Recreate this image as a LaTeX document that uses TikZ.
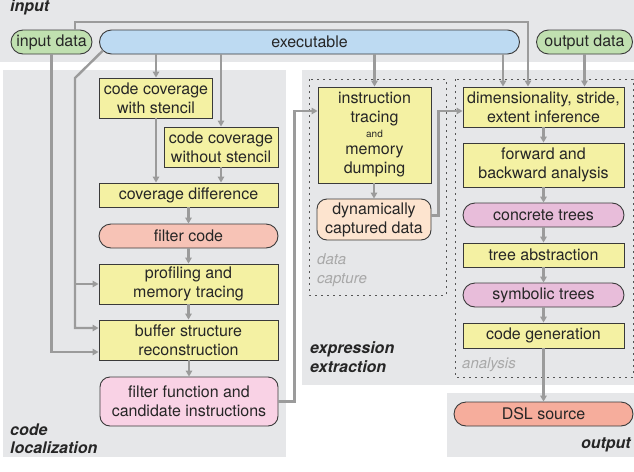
\documentclass[tikz,border=0pt]{standalone}
\usepackage{fontspec}
\setmainfont{TeX Gyre Heros}
\usetikzlibrary{arrows.meta}
\definecolor{panel}{HTML}{E6E7E9}
\definecolor{boxline}{HTML}{3A3A3A}
\definecolor{txt}{HTML}{262626}
\definecolor{flowgray}{HTML}{9B9B9B}
\definecolor{dotgray}{HTML}{555555}
\definecolor{subgray}{HTML}{A8A8A8}
\definecolor{yel}{HTML}{F4F1A3}
\definecolor{blu}{HTML}{BDDAF2}
\definecolor{grn}{HTML}{C0E0B0}
\definecolor{salm}{HTML}{F7C3B6}
\definecolor{dslred}{HTML}{F6AD9C}
\definecolor{pnk}{HTML}{F9D2E5}
\definecolor{mag}{HTML}{E8BDDA}
\definecolor{peach}{HTML}{FDE4CF}
\begin{document}
\begin{tikzpicture}[x=1pt,y=-1pt,
  box/.style={draw=boxline,line width=0.9pt,fill=yel,inner sep=0pt,align=center,text=txt,font=\fontsize{16}{19}\selectfont},
  pill/.style={box,rounded corners=12pt},
  rbox/.style={box,rounded corners=10pt},
  flow/.style={draw=flowgray,line width=2.4pt,-{Triangle[length=6pt,width=6.5pt]}},
  grp/.style={inner sep=0pt,text=txt,font=\fontsize{16}{19}\selectfont\bfseries\itshape},
  sub/.style={inner sep=0pt,text=subgray,font=\fontsize{15}{18}\selectfont\itshape},
  frame/.style={draw=dotgray,line width=1pt,dash pattern=on 2pt off 4pt}]

\useasboundingbox (0,0) rectangle (634,471);

%panels
\fill[panel] (0,0) rectangle (634,62);
\fill[panel] (3,70) rectangle (286,457);
\fill[panel] (302,70) rectangle (634,385);
\fill[panel] (447,393) rectangle (634,457);
\draw[frame] (309,79) rectangle (446,295);
\draw[frame] (455,79) rectangle (633,377);

\node[grp,anchor=base west] (Linput) at (10,12) {input};
\node[grp,anchor=base west] (Lcode) at (10,435) {code};
\node[grp,anchor=base west] (Lloc) at (10,453) {localization};
\node[grp,anchor=base west] (Lexpr) at (310,353) {expression};
\node[grp,anchor=base west] (Lextr) at (310,372) {extraction};
\node[grp,anchor=base east] (Loutput) at (631,448) {output};
\node[sub,anchor=base west] (Ldata) at (317,264) {data};
\node[sub,anchor=base west] (Lcapt) at (317,283) {capture};
\node[sub,anchor=base west] (Lana) at (462,368) {analysis};

%input
\node[pill,fill=grn,minimum width=81,minimum height=24] (indata) at (51.5,42) {input data};
\node[pill,fill=blu,minimum width=420,minimum height=24] (exe) at (309.5,42) {executable};
\node[pill,fill=grn,minimum width=96,minimum height=24] (outdata) at (584.5,42) {output data};

%code localization
\node[box,minimum width=113,minimum height=40] (covw) at (156,98) {code coverage\\with stencil};
\node[box,minimum width=114,minimum height=40] (covwo) at (221,147) {code coverage\\without stencil};
\node[box,minimum width=179,minimum height=24] (covdiff) at (188.5,195) {coverage difference};
\node[pill,fill=salm,minimum width=179,minimum height=24] (filtcode) at (188.5,236) {filter code};
\node[box,minimum width=179,minimum height=40] (prof) at (188.5,284) {profiling and\\memory tracing};
\node[box,minimum width=179,minimum height=40] (buf) at (188.5,340) {buffer structure\\reconstruction};
\node[rbox,fill=pnk,minimum width=178,minimum height=49] (filtfun) at (189,401.5) {filter function and\\candidate instructions};

%data capture
\node[box,minimum width=113,minimum height=96] (trace) at (374.5,135) {instruction\\tracing\\[-4pt]{\fontsize{10}{12}\selectfont and}\\[-2pt]memory\\dumping};
\node[rbox,fill=peach,minimum width=114,minimum height=41] (dyn) at (374,219.5) {dynamically\\captured data};

%analysis
\node[box,minimum width=161,minimum height=40] (dim) at (543.5,107) {dimensionality, stride,\\extent inference};
\node[box,minimum width=161,minimum height=44] (fwd) at (543.5,165) {forward and\\backward analysis};
\node[pill,fill=mag,minimum width=161,minimum height=24] (conc) at (543.5,215) {concrete trees};
\node[box,minimum width=161,minimum height=24] (abs) at (543.5,255) {tree abstraction};
\node[pill,fill=mag,minimum width=161,minimum height=24] (sym) at (543.5,295) {symbolic trees};
\node[box,minimum width=161,minimum height=25] (gen) at (543.5,335.5) {code generation};

%output
\node[pill,fill=dslred,minimum width=179,minimum height=24] (dsl) at (543.5,414) {DSL source};

\coordinate (fbk) at (75,22);
\coordinate (bend) at (75,78);
\coordinate (exeleft) at (103,50.5);
\coordinate (dimA) at ([xshift=-40.5pt]dim.north);
\coordinate (dimB) at ([xshift=-15.5pt]dim.north);

\draw[flow] (indata.north -| fbk) -- (fbk) -| (dimB);
\draw[flow] (indata.south) |- ([yshift=-12pt]buf.west);
\draw[flow] (exeleft) -- (bend) |- ([yshift=12pt]buf.west);
\draw[flow] (bend |- prof.west) -- (prof.west);
\draw[flow] (exe.south -| covw.north) -- (covw.north);
\draw[flow] (exe.south -| covwo.north) -- (covwo.north);
\draw[flow] (covw.south) -- (covw.south |- covdiff.north);
\draw[flow] (covwo.south) -- (covwo.south |- covdiff.north);
\draw[flow] (covdiff) -- (filtcode);
\draw[flow] (filtcode) -- (prof);
\draw[flow] (prof) -- (buf);
\draw[flow] (buf.south -| filtfun.north) -- (filtfun.north);
\draw[flow] (filtfun.east) -- ++(16,0) |- ([yshift=24pt]trace.west);

\draw[flow] (exe.south -| trace.north) -- (trace.north);
\draw[flow] (trace.south -| dyn.north) -- (dyn.north);
\draw[flow] ([yshift=4pt]dyn.east) -- ++(7,0) |- ([yshift=-4pt]dim.west);
\draw[flow] (exe.south -| dimA) -- (dimA);
\draw[flow] (outdata.south) -- (outdata.south |- dim.north);

\draw[flow] (dim) -- (fwd);
\draw[flow] (fwd) -- (conc);
\draw[flow] (conc) -- (abs);
\draw[flow] (abs) -- (sym);
\draw[flow] (sym) -- (gen);
\draw[flow] (gen) -- (dsl);
\end{tikzpicture}
\end{document}
